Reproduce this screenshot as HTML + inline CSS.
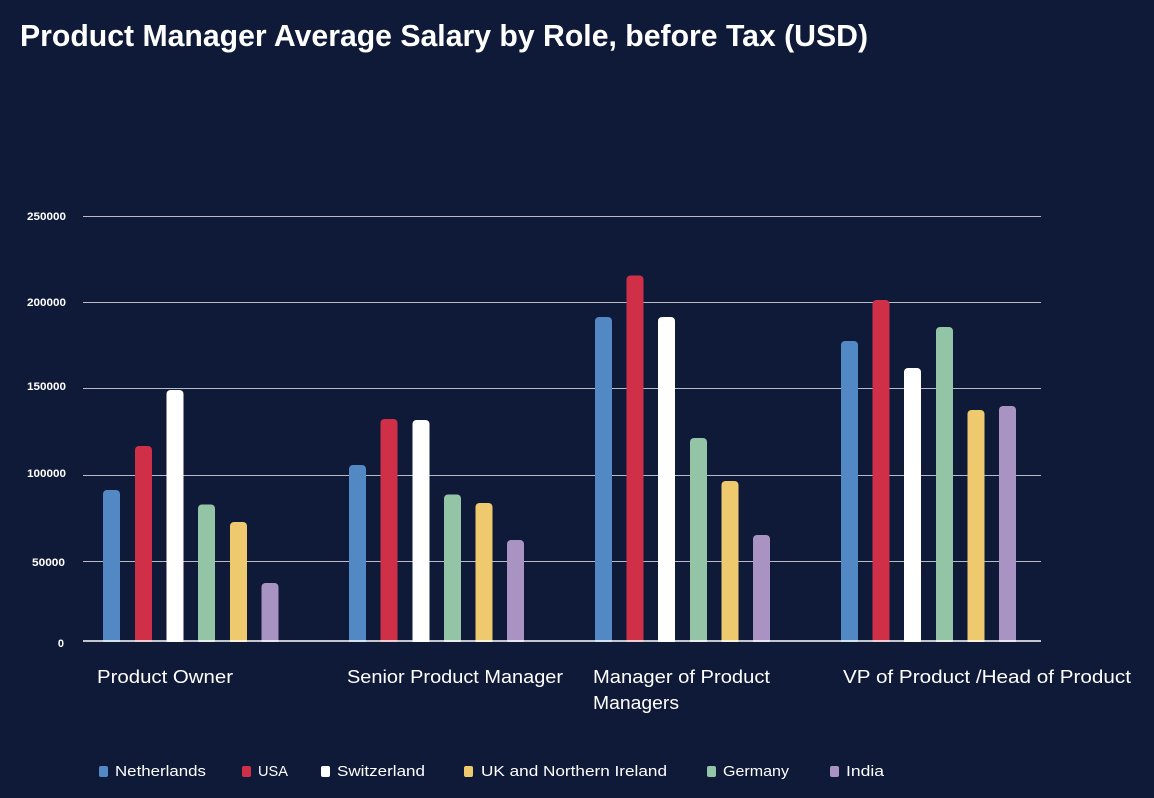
<!DOCTYPE html>
<html>
<head>
<meta charset="utf-8">
<style>
  html, body { margin:0; padding:0; background:#0f1a38; }
  svg { display:block; }
  text { font-family: "Liberation Sans", "DejaVu Sans", sans-serif; fill:#ffffff; }
</style>
</head>
<body>
<svg width="1154" height="798" viewBox="0 0 1154 798" xmlns="http://www.w3.org/2000/svg">
  <rect x="0" y="0" width="1154" height="798" fill="#0f1a38"/>

  <!-- Title -->
  <text x="20" y="46" font-size="31" font-weight="bold" textLength="848" lengthAdjust="spacingAndGlyphs">Product Manager Average Salary by Role, before Tax (USD)</text>

  <!-- Gridlines -->
  <g stroke="#b9bac6" stroke-width="1">
    <line x1="83" y1="216.5" x2="1041" y2="216.5"/>
    <line x1="83" y1="302.5" x2="1041" y2="302.5"/>
    <line x1="83" y1="388.5" x2="1041" y2="388.5"/>
    <line x1="83" y1="475.5" x2="1041" y2="475.5"/>
    <line x1="83" y1="561.5" x2="1041" y2="561.5"/>
  </g>

  <!-- Y labels -->
  <g font-size="11" font-weight="bold" text-anchor="end">
    <text x="66" y="220" textLength="39" lengthAdjust="spacingAndGlyphs">250000</text>
    <text x="66" y="306" textLength="39" lengthAdjust="spacingAndGlyphs">200000</text>
    <text x="66" y="390" textLength="39" lengthAdjust="spacingAndGlyphs">150000</text>
    <text x="66" y="477" textLength="39" lengthAdjust="spacingAndGlyphs">100000</text>
    <text x="65" y="566" textLength="33" lengthAdjust="spacingAndGlyphs">50000</text>
    <text x="64" y="647">0</text>
  </g>

  <!-- Bars -->
  <g>
    <!-- Group 1: Product Owner -->
    <rect x="103" y="490" width="17" height="155" rx="4" fill="#5288c3"/>
    <rect x="135" y="446" width="17" height="199" rx="4" fill="#cf3048"/>
    <rect x="166.5" y="390" width="17" height="255" rx="4" fill="#ffffff"/>
    <rect x="198" y="504.5" width="17" height="140" rx="4" fill="#93c4a6"/>
    <rect x="230" y="522" width="17" height="123" rx="4" fill="#eec96d"/>
    <rect x="261.5" y="583" width="17" height="62" rx="4" fill="#a893c3"/>

    <!-- Group 2: Senior Product Manager -->
    <rect x="349" y="465" width="17" height="180" rx="4" fill="#5288c3"/>
    <rect x="380.5" y="419" width="17" height="226" rx="4" fill="#cf3048"/>
    <rect x="412.5" y="420" width="17" height="225" rx="4" fill="#ffffff"/>
    <rect x="444" y="494.5" width="17" height="150" rx="4" fill="#93c4a6"/>
    <rect x="475.5" y="503" width="17" height="142" rx="4" fill="#eec96d"/>
    <rect x="507" y="540" width="17" height="105" rx="4" fill="#a893c3"/>

    <!-- Group 3: Manager of Product Managers -->
    <rect x="595" y="317" width="17" height="328" rx="4" fill="#5288c3"/>
    <rect x="626.5" y="275.5" width="17" height="370" rx="4" fill="#cf3048"/>
    <rect x="658" y="317" width="17" height="328" rx="4" fill="#ffffff"/>
    <rect x="690" y="438" width="17" height="207" rx="4" fill="#93c4a6"/>
    <rect x="721.5" y="481" width="17" height="164" rx="4" fill="#eec96d"/>
    <rect x="753" y="535" width="17" height="110" rx="4" fill="#a893c3"/>

    <!-- Group 4: VP of Product / Head of Product -->
    <rect x="841" y="341" width="17" height="304" rx="4" fill="#5288c3"/>
    <rect x="872.5" y="300" width="17" height="345" rx="4" fill="#cf3048"/>
    <rect x="904" y="368" width="17" height="277" rx="4" fill="#ffffff"/>
    <rect x="936" y="327" width="17" height="318" rx="4" fill="#93c4a6"/>
    <rect x="967.5" y="410" width="17" height="235" rx="4" fill="#eec96d"/>
    <rect x="999" y="406" width="17" height="239" rx="4" fill="#a893c3"/>
  </g>

  <!-- Baseline / mask below -->
  <rect x="83" y="642" width="1000" height="10" fill="#0f1a38"/>
  <line x1="83" y1="641" x2="1041" y2="641" stroke="#ffffff" stroke-width="1.6"/>

  <!-- X labels -->
  <g font-size="18">
    <text x="97" y="683" textLength="136" lengthAdjust="spacingAndGlyphs">Product Owner</text>
    <text x="347" y="683" textLength="216" lengthAdjust="spacingAndGlyphs">Senior Product Manager</text>
    <text x="593" y="683" textLength="177" lengthAdjust="spacingAndGlyphs">Manager of Product</text>
    <text x="593" y="709" textLength="86" lengthAdjust="spacingAndGlyphs">Managers</text>
    <text x="843" y="683" textLength="288" lengthAdjust="spacingAndGlyphs">VP of Product /Head of Product</text>
  </g>

  <!-- Legend -->
  <g>
    <rect x="99" y="766" width="9" height="11" rx="2" fill="#5288c3"/>
    <text x="115" y="776" font-size="15" textLength="91" lengthAdjust="spacingAndGlyphs">Netherlands</text>

    <rect x="242" y="766" width="9" height="11" rx="2" fill="#cf3048"/>
    <text x="258" y="776" font-size="15" textLength="30" lengthAdjust="spacingAndGlyphs">USA</text>

    <rect x="321" y="766" width="9" height="11" rx="2" fill="#ffffff"/>
    <text x="337" y="776" font-size="15" textLength="88" lengthAdjust="spacingAndGlyphs">Switzerland</text>

    <rect x="464" y="766" width="9" height="11" rx="2" fill="#eec96d"/>
    <text x="481" y="776" font-size="15" textLength="186" lengthAdjust="spacingAndGlyphs">UK and Northern Ireland</text>

    <rect x="707" y="766" width="9" height="11" rx="2" fill="#93c4a6"/>
    <text x="723" y="776" font-size="15" textLength="66" lengthAdjust="spacingAndGlyphs">Germany</text>

    <rect x="830" y="766" width="9" height="11" rx="2" fill="#a893c3"/>
    <text x="846" y="776" font-size="15" textLength="38" lengthAdjust="spacingAndGlyphs">India</text>
  </g>
</svg>
</body>
</html>
